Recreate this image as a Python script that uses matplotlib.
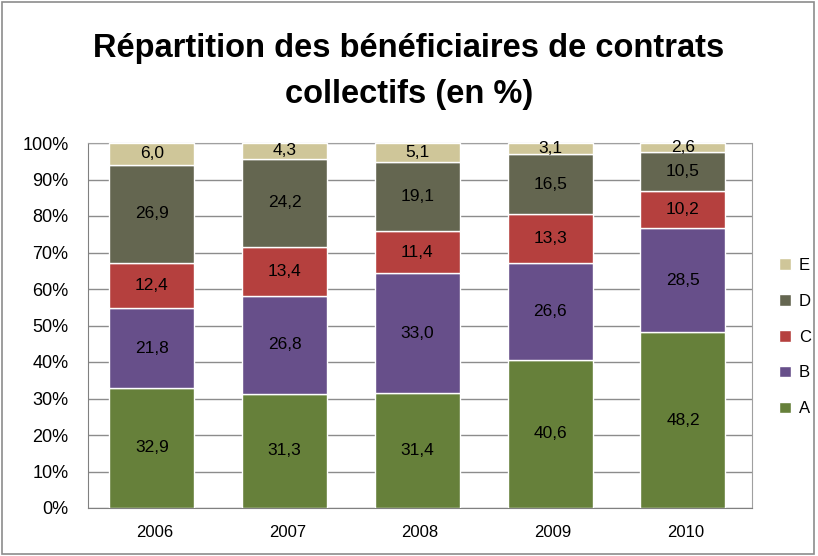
import numpy as np
import matplotlib.pyplot as plt
from matplotlib.patches import Rectangle

years = ['2006', '2007', '2008', '2009', '2010']
series = ['A', 'B', 'C', 'D', 'E']
A = [32.9, 31.3, 31.4, 40.6, 48.2]
B = [21.8, 26.8, 33.0, 26.6, 28.5]
C = [12.4, 13.4, 11.4, 13.3, 10.2]
D = [26.9, 24.2, 19.1, 16.5, 10.5]
E = [6.0, 4.3, 5.1, 3.1, 2.6]
colors = ['#66803a', '#674f8a', '#b5403e', '#646650', '#cfc699']

plt.rcParams['font.family'] = ['Liberation Sans', 'DejaVu Sans']

fig = plt.figure(figsize=(8.18, 5.56), dpi=100)
fig.patches.append(Rectangle((0.003, 0.004), 0.992, 0.992, transform=fig.transFigure,
                             fill=False, edgecolor='#8c8c8c', lw=1.2))
ax = fig.add_axes([88/818, 1 - 508/556, 664/818, 365/556])

x = np.arange(len(years))
bottom = np.zeros(len(years))
for name, vals, c in zip(series, [A, B, C, D, E], colors):
    vals = np.array(vals)
    ax.bar(x - 0.02, vals, 0.64, bottom=bottom, color=c, edgecolor='white', lw=1, label=name, zorder=3)
    for xi, b, v in zip(x, bottom, vals):
        ax.text(xi - 0.02, b + v / 2, f'{v:.1f}'.replace('.', ','), ha='center', va='center',
                fontsize=12.5, color='black', zorder=4)
    bottom += vals

ax.set_xlim(-0.5, 4.5)
ax.set_ylim(0, 100)
ax.set_yticks(np.arange(0, 101, 10))
ax.set_yticklabels([f'{t}%' for t in range(0, 101, 10)], fontsize=13)
ax.set_xticks(x)
ax.set_xticklabels(years, fontsize=12)
ax.tick_params(axis='y', length=0, pad=14)
ax.tick_params(axis='x', length=0, pad=12)
ax.grid(axis='y', color='#8c8c8c', lw=1, zorder=0)
for s in ax.spines.values():
    s.set_color('#a0a0a0')
    s.set_linestyle((0, (1, 1)))
ax.spines['left'].set_linestyle('-')
ax.spines['left'].set_color('#808080')
ax.spines['bottom'].set_linestyle('-')
ax.spines['bottom'].set_color('#808080')

h, l = ax.get_legend_handles_labels()
fig.legend(h[::-1], l[::-1], loc='center left', bbox_to_anchor=(764/818, 1 - 337/556),
           frameon=False, fontsize=12, handlelength=0.7, handleheight=0.7,
           labelspacing=1.25, handletextpad=0.5)

fig.text(0.5, 1 - 48/556, 'Répartition des bénéficiaires de contrats', ha='center', va='center',
         fontsize=23.5, fontweight='bold')
fig.text(0.5, 1 - 95/556, 'collectifs (en %)', ha='center', va='center',
         fontsize=23.5, fontweight='bold')

fig.savefig('out.png', dpi=100)
